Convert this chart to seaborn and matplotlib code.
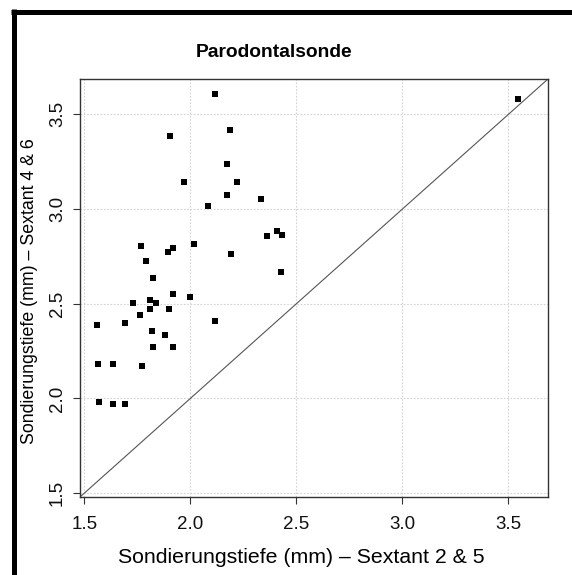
import matplotlib
matplotlib.use("Agg")
import matplotlib.pyplot as plt
from matplotlib.lines import Line2D
import seaborn as sns
import pandas as pd

title = "Parodontalsonde"
xlabel = "Sondierungstiefe (mm) – Sextant 2 & 5"
ylabel = "Sondierungstiefe (mm) – Sextant 4 & 6"
ticks = [1.5, 2.0, 2.5, 3.0, 3.5]
tick_labels = ["1.5", "2.0", "2.5", "3.0", "3.5"]

sextant_25 = [2.118, 2.187, 1.902, 2.171, 1.968, 2.221, 2.171, 2.331, 2.082, 2.359,
              2.408, 2.431, 1.765, 1.916, 1.895, 2.017, 2.193, 1.792, 1.823, 2.428,
              1.916, 1.999, 1.728, 1.810, 1.839, 1.810, 1.900, 1.763, 1.561, 1.691,
              2.118, 1.818, 1.880, 1.823, 1.916, 1.566, 1.635, 1.770, 1.569, 1.635,
              1.691, 3.543]
sextant_46 = [3.605, 3.417, 3.386, 3.238, 3.144, 3.144, 3.072, 3.053, 3.014, 2.856,
              2.884, 2.861, 2.803, 2.793, 2.772, 2.814, 2.765, 2.723, 2.637, 2.670,
              2.553, 2.533, 2.502, 2.517, 2.502, 2.474, 2.472, 2.440, 2.389, 2.398,
              2.407, 2.358, 2.335, 2.274, 2.274, 2.179, 2.179, 2.170, 1.982, 1.968,
              1.968, 3.582]

df = pd.DataFrame({"x": sextant_25, "y": sextant_46})

sns.set_style("white")
plt.rcParams["font.family"] = ["Liberation Sans", "DejaVu Sans"]
plt.rcParams["text.color"] = "black"

W, H = 572, 575
fig = plt.figure(figsize=(W / 100, H / 100), dpi=100)
ax = fig.add_axes([80 / W, 1 - 497 / H, (548 - 80) / W, (497 - 79) / H])

lo = min(min(sextant_25), min(sextant_46))
hi = max(max(sextant_25), max(sextant_46))
ext = (hi - lo) * 0.04
lim = (lo - ext, hi + ext)

ax.set_xlim(lim)
ax.set_ylim(lim)
ax.set_xticks(ticks)
ax.set_yticks(ticks)
ax.grid(True, color="#d3d3d3", linestyle=(0, (1.5, 1.5)), linewidth=0.8)
ax.set_axisbelow(True)

ax.axline((lim[0], lim[0]), slope=1, color="#555555", linewidth=0.8, zorder=2)

sns.scatterplot(data=df, x="x", y="y", marker="s", color="black", s=24,
                linewidth=0, ax=ax, zorder=3)

ax.set_xlabel("")
ax.set_ylabel("")
ax.set_xticklabels(tick_labels, fontsize=13.5)
ax.set_yticklabels(tick_labels, fontsize=13.5, rotation=90, va="center")
ax.tick_params(axis="both", direction="out", length=5, width=0.8, color="#333333",
               bottom=True, left=True, labelcolor="#111111")
ax.tick_params(axis="x", pad=8.5)
ax.tick_params(axis="y", pad=5)
for sp in ax.spines.values():
    sp.set_color("#333333")
    sp.set_linewidth(1.0)

fig.text(274 / W, 1 - 57 / H, title, ha="center", va="baseline",
         fontsize=13.9, fontweight="bold", color="black")
fig.text(301 / W, 1 - 563 / H, xlabel, ha="center", va="baseline", fontsize=15.3,
         color="black")
fig.text(30 / W, 1 - 291.5 / H, ylabel, ha="center", va="center", rotation=90,
         fontsize=12.8, rotation_mode="anchor", color="black")

# frame lines (top and left)
fig.add_artist(Line2D([11 / W, 1], [1 - 11.5 / H, 1 - 11.5 / H], color="black",
                      linewidth=3.6, solid_capstyle="butt", transform=fig.transFigure))
fig.add_artist(Line2D([13.5 / W, 13.5 / W], [0, 1 - 9 / H], color="black",
                      linewidth=3.6, solid_capstyle="butt", transform=fig.transFigure))

fig.savefig("out.png", dpi=100)
